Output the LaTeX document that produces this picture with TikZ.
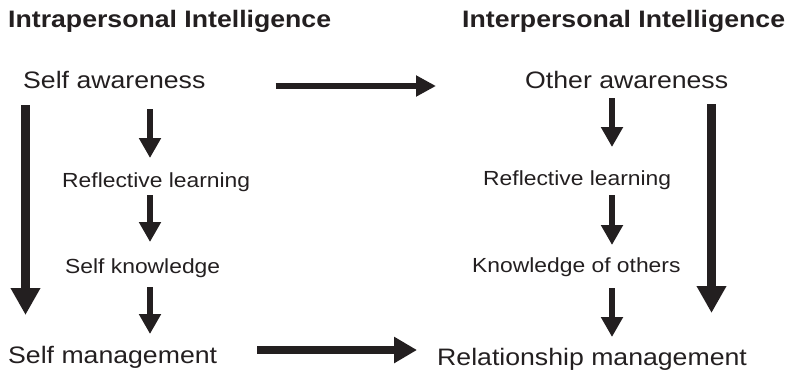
\documentclass[tikz,border=0pt]{standalone}
\usepackage{fontspec}
\setmainfont{Liberation Sans}[FakeStretch=1.12]
\usetikzlibrary{arrows.meta}
\definecolor{ink}{HTML}{231F20}
\begin{document}
\begin{tikzpicture}[x=1pt,y=-1pt,
  txt/.style={anchor=base west,inner sep=0pt,text=ink,font=\fontsize{23.8}{26}\selectfont},
  title/.style={txt,font=\fontsize{23.8}{26}\selectfont\bfseries},
  small/.style={txt,font=\fontsize{20.4}{23}\selectfont},
  arrsmall/.style={draw=ink,line width=6pt,-{Triangle[length=20pt,width=21pt]}},
  arrlong/.style={draw=ink,line width=8.5pt,-{Triangle[length=27pt,width=28pt]}},
  arrtop/.style={draw=ink,line width=6pt,-{Triangle[length=20pt,width=20pt]}},
  arrbot/.style={draw=ink,line width=8pt,-{Triangle[length=23pt,width=25pt]}}]
\useasboundingbox (0,0) rectangle (791,375);
\node[title] (t1) at (8,27) {Intrapersonal Intelligence};
\node[title] (t2) at (462,27) {Interpersonal Intelligence};
\node[txt] (sa) at (23,88) {Self awareness};
\node[txt] (oa) at (525,88) {Other awareness};
\node[small] (rl1) at (62,187) {Reflective learning};
\node[small] (rl2) at (483,185) {Reflective learning};
\node[small] (sk) at (65,273) {Self knowledge};
\node[small] (ko) at (472,272) {Knowledge of others};
\node[txt] (sm) at (8,363) {Self management};
\node[txt] (rm) at (437,365) {Relationship management};
\coordinate (cl) at (150,0);
\coordinate (cL) at (25.5,0);
\coordinate (cr) at (612,0);
\coordinate (cR) at (711.5,0);
\coordinate (hy1) at (0,86);
\coordinate (hy2) at (0,350);
% horizontal arrows between the columns
\draw[arrtop,shorten <=70pt,shorten >=89pt] (sa.base east |- hy1) -- (oa.base west |- hy1);
\draw[arrbot,shorten <=40pt,shorten >=20pt] (sm.base east |- hy2) -- (rm.base west |- hy2);
% left column
\draw[arrsmall,shorten <=21pt,shorten >=29pt] (sa.base -| cl) -- (rl1.base -| cl);
\draw[arrsmall,shorten <=8pt,shorten >=31pt] (rl1.base -| cl) -- (sk.base -| cl);
\draw[arrsmall,shorten <=14pt,shorten >=29pt] (sk.base -| cl) -- (sm.base -| cl);
\draw[arrlong,shorten <=17pt,shorten >=48pt] (sa.base -| cL) -- (sm.base -| cL);
% right column
\draw[arrsmall,shorten <=10pt,shorten >=38pt] (oa.base -| cr) -- (rl2.base -| cr);
\draw[arrsmall,shorten <=10pt,shorten >=27pt] (rl2.base -| cr) -- (ko.base -| cr);
\draw[arrsmall,shorten <=16pt,shorten >=28pt] (ko.base -| cr) -- (rm.base -| cr);
\draw[arrlong,shorten <=16pt,shorten >=52pt] (oa.base -| cR) -- (rm.base -| cR);
\end{tikzpicture}
\end{document}
